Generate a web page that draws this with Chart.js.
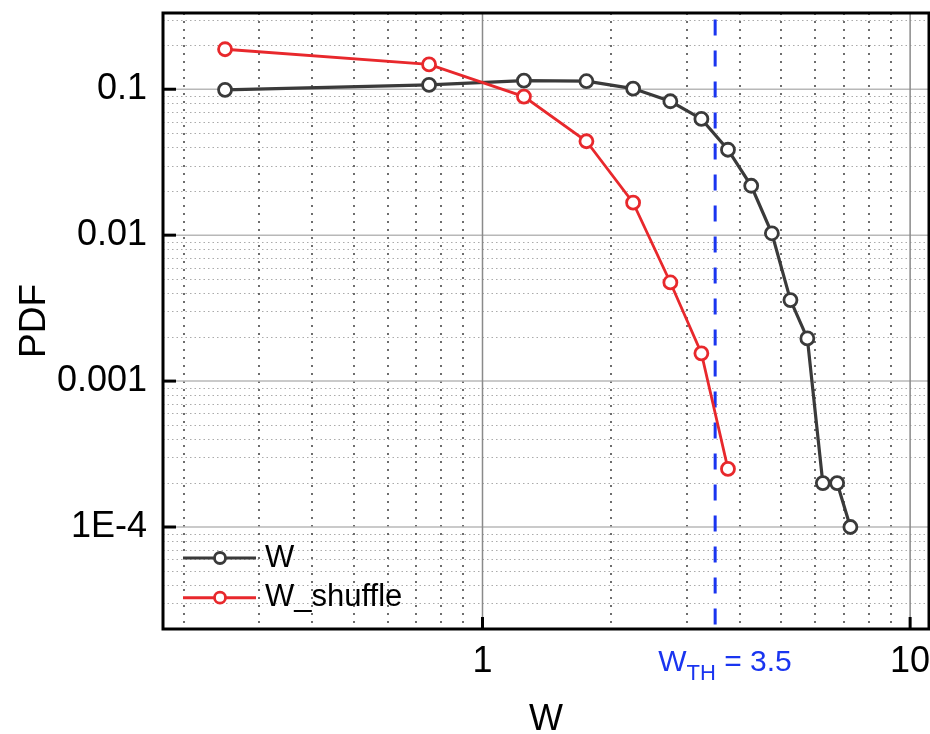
<!DOCTYPE html>
<html lang="en">
<head>
<meta charset="UTF-8">
<title>PDF of W</title>
<script src="https://cdn.jsdelivr.net/npm/chart.js@4.4.1/dist/chart.umd.min.js"></script>
<style>
  body { margin: 0; background: #fff; }
  #wrap { width: 930px; height: 734px; }
</style>
</head>
<body>
<div id="wrap"><canvas id="myChart" width="930" height="734"></canvas></div>
<script>
// values
const wBins = [0.25, 0.75, 1.25, 1.75, 2.25, 2.75, 3.25, 3.75, 4.25, 4.75, 5.25, 5.75, 6.25, 6.75, 7.25];
const wPdf = [0.099, 0.107, 0.1146, 0.1135, 0.101, 0.0827, 0.0626, 0.0385, 0.0218, 0.0103, 0.00359, 0.00196, 0.0002, 0.0002, 0.0001];
const shuffleBins = [0.25, 0.75, 1.25, 1.75, 2.25, 2.75, 3.25, 3.75];
const shufflePdf = [0.188, 0.148, 0.089, 0.044, 0.0167, 0.00474, 0.00155, 0.00025];
const wTh = 3.5;

const xTicks = [1, 10];
const xTickLabels = ['1', '10'];
const yTicks = [0.1, 0.01, 0.001, 0.0001];
const yTickLabels = ['0.1', '0.01', '0.001', '1E-4'];
const xMin = 0.179, xMax = 11.07;
const yMin = 2e-5, yMax = 0.333;

const FONT = '"Liberation Sans", Arial, sans-serif';
const BLACK = '#3a3a3a';
const RED = '#e8282c';
const BLUE = '#1a35f0';

function pts(xs, ys) {
  return xs.map((v, i) => ({ x: v, y: ys[i] }));
}

function seg(ctx, x1, y1, x2, y2) {
  ctx.beginPath();
  ctx.moveTo(x1, y1);
  ctx.lineTo(x2, y2);
  ctx.stroke();
}

// grid, frame, ticks, labels and legend
const decor = {
  id: 'decor',
  beforeDatasetsDraw(chart) {
    const { ctx, chartArea: a, scales: { x, y } } = chart;
    ctx.save();
    // minor horizontal (light dots)
    ctx.lineWidth = 1.2;
    ctx.setLineDash([1.5, 3]);
    ctx.strokeStyle = '#ababab';
    for (let e = -5; e <= 0; e++) {
      for (let m = 2; m <= 9; m++) {
        const v = m * Math.pow(10, e);
        if (v <= yMin || v >= yMax) continue;
        const py = Math.round(y.getPixelForValue(v)) + 0.5;
        seg(ctx, a.left, py, a.right, py);
      }
    }
    // minor vertical (dark dots)
    ctx.lineWidth = 1.6;
    ctx.setLineDash([2, 6]);
    ctx.strokeStyle = '#4a4a4a';
    for (let e = -1; e <= 1; e++) {
      for (let m = 2; m <= 9; m++) {
        const v = m * Math.pow(10, e);
        if (v <= xMin || v >= xMax) continue;
        const px = Math.round(x.getPixelForValue(v));
        seg(ctx, px, a.top, px, a.bottom);
      }
    }
    ctx.setLineDash([]);
    // major lines
    ctx.lineWidth = 1.5;
    ctx.strokeStyle = '#b8b8b8';
    yTicks.forEach(v => {
      const py = y.getPixelForValue(v);
      seg(ctx, a.left, py, a.right, py);
    });
    ctx.strokeStyle = '#8a8a8a';
    xTicks.forEach(v => {
      const px = x.getPixelForValue(v);
      seg(ctx, px, a.top, px, a.bottom);
    });
    ctx.restore();
  },
  afterDraw(chart) {
    const { ctx, chartArea: a, scales: { x, y } } = chart;
    ctx.save();
    // frame
    ctx.strokeStyle = '#000';
    ctx.lineWidth = 3;
    ctx.strokeRect(a.left, a.top, a.right - a.left, a.bottom - a.top);
    // inward major ticks
    yTicks.forEach(v => {
      const py = y.getPixelForValue(v);
      seg(ctx, a.left, py, a.left + 13, py);
    });
    xTicks.forEach(v => {
      const px = x.getPixelForValue(v);
      seg(ctx, px, a.bottom, px, a.bottom - 12);
    });
    // tick labels
    ctx.fillStyle = '#000';
    ctx.font = '36px ' + FONT;
    ctx.textAlign = 'right';
    ctx.textBaseline = 'middle';
    yTicks.forEach((v, i) => ctx.fillText(yTickLabels[i], a.left - 16, y.getPixelForValue(v)));
    ctx.textAlign = 'center';
    ctx.textBaseline = 'alphabetic';
    xTicks.forEach((v, i) => ctx.fillText(xTickLabels[i], x.getPixelForValue(v), a.bottom + 43));
    // axis titles
    ctx.fillText('W', (a.left + a.right) / 2, 730);
    ctx.save();
    ctx.translate(45, (a.top + a.bottom) / 2);
    ctx.rotate(-Math.PI / 2);
    ctx.font = '37px ' + FONT;
    ctx.fillText('PDF', 0, 0);
    ctx.restore();
    // threshold label
    const tx = x.getPixelForValue(wTh) - 57;
    ctx.fillStyle = BLUE;
    ctx.textAlign = 'left';
    ctx.font = '30px ' + FONT;
    ctx.fillText('W', tx, a.bottom + 42);
    const w1 = ctx.measureText('W').width;
    ctx.font = '22px ' + FONT;
    ctx.fillText('TH', tx + w1, a.bottom + 51);
    const w2 = ctx.measureText('TH').width;
    ctx.font = '30px ' + FONT;
    ctx.fillText(' = 3.5', tx + w1 + w2, a.bottom + 42);
    // legend
    const items = chart.data.datasets.filter(d => d.label);
    items.forEach((d, i) => {
      const ly = a.bottom - 71 + i * 39.7;
      const lx = a.left + 20;
      ctx.strokeStyle = d.borderColor;
      ctx.lineWidth = 3;
      seg(ctx, lx, ly, lx + 73, ly);
      ctx.beginPath();
      ctx.arc(lx + 37, ly, 5.5, 0, Math.PI * 2);
      ctx.fillStyle = '#fff';
      ctx.fill();
      ctx.lineWidth = 2.8;
      ctx.stroke();
      ctx.fillStyle = '#000';
      ctx.font = '31px ' + FONT;
      ctx.textBaseline = 'middle';
      ctx.fillText(d.label, lx + 82, ly);
    });
    ctx.restore();
  }
};

const ctx = document.getElementById('myChart');
const myChart = new Chart(ctx, {
  type: 'line',
  data: {
    datasets: [
      {
        label: 'W',
        data: pts(wBins, wPdf),
        borderColor: BLACK,
        borderWidth: 3.2,
        pointRadius: 6.5,
        pointBorderWidth: 2.8,
        pointBackgroundColor: '#fff',
        pointBorderColor: BLACK,
        order: 2
      },
      {
        label: 'W_shuffle',
        data: pts(shuffleBins, shufflePdf),
        borderColor: RED,
        borderWidth: 2.8,
        pointRadius: 6.5,
        pointBorderWidth: 2.8,
        pointBackgroundColor: '#fff',
        pointBorderColor: RED,
        order: 1
      },
      {
        label: '',
        data: [{ x: wTh, y: 0.3 }, { x: wTh, y: yMin }],
        borderColor: BLUE,
        borderWidth: 3,
        borderDash: [16, 15],
        pointRadius: 0,
        order: 3
      }
    ]
  },
  options: {
    responsive: false,
    animation: false,
    devicePixelRatio: 1,
    layout: { autoPadding: false, padding: { left: 163, top: 13, right: 1, bottom: 105 } },
    plugins: { legend: { display: false }, tooltip: { enabled: false } },
    scales: {
      x: { type: 'logarithmic', min: xMin, max: xMax, display: false },
      y: { type: 'logarithmic', min: yMin, max: yMax, display: false }
    }
  },
  plugins: [decor]
});
</script>
</body>
</html>
